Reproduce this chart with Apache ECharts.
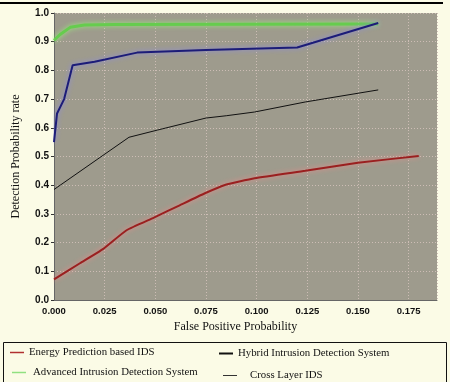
<!DOCTYPE html>
<html><head><meta charset="utf-8">
<script src="https://cdn.jsdelivr.net/npm/echarts@6/dist/echarts.min.js"></script>
<style>html,body{margin:0;padding:0;background:#fbfbe6;}#c{width:450px;height:382px;}</style>
</head><body><div id="c"></div>
<script>
const xTicks = [0, 0.025, 0.05, 0.075, 0.1, 0.125, 0.15, 0.175];
const yTicks = [0, 0.1, 0.2, 0.3, 0.4, 0.5, 0.6, 0.7, 0.8, 0.9, 1.0];
const seriesNames = ['Energy Prediction based IDS', 'Advanced Intrusion Detection System', 'Hybrid Intrusion Detection System', 'Cross Layer IDS'];
const energyX = [0, 0.0128, 0.0243, 0.0358, 0.0493, 0.062, 0.0745, 0.084, 0.099, 0.124, 0.150, 0.180];
const energyY = [0.072, 0.128, 0.178, 0.243, 0.287, 0.330, 0.372, 0.400, 0.424, 0.450, 0.478, 0.502];
const advancedX = [0, 0.003, 0.008, 0.015, 0.030, 0.160];
const advancedY = [0.905, 0.925, 0.95, 0.958, 0.96, 0.962];
const hybridX = [0, 0.037, 0.051, 0.075, 0.085, 0.099, 0.124, 0.160];
const hybridY = [0.385, 0.567, 0.592, 0.634, 0.642, 0.655, 0.690, 0.732];
const crossX = [0, 0.0015, 0.005, 0.0092, 0.020, 0.041, 0.075, 0.120, 0.160];
const crossY = [0.55, 0.65, 0.70, 0.818, 0.83, 0.862, 0.871, 0.880, 0.965];

const pairs = (xs, ys) => xs.map((x, i) => [x, ys[i]]);
const chart = echarts.init(document.getElementById('c'), null, {renderer: 'canvas'});
const serif = '"Liberation Serif", "DejaVu Serif", serif';
const sans = '"Liberation Sans", Arial, sans-serif';
function mkLegend(name, left, top, color, h, padLeft) {
  return {
    data: [{name: name, icon: 'rect', itemStyle: {color: color}}],
    left: left, top: top, orient: 'horizontal',
    itemWidth: 14, itemHeight: h, itemGap: 6,
    textStyle: {fontFamily: serif, fontSize: 10.8, color: '#111', padding: [0, 0, 0, padLeft || 0]},
    selectedMode: false
  };
}
chart.setOption({
  backgroundColor: '#fbfbe6',
  animation: false,
  grid: {left: 54, right: 13, top: 13, bottom: 82, show: true, backgroundColor: '#9e9b8d', borderWidth: 0},
  xAxis: {
    type: 'value', min: 0, max: 0.189, interval: 0.025,
    name: 'False Positive Probability', nameLocation: 'middle', nameGap: 19,
    nameTextStyle: {fontFamily: serif, fontSize: 12, color: '#111', padding: [0, 20, 0, 0]},
    axisLine: {show: true, lineStyle: {color: '#666', width: 1}},
    axisTick: {show: false},
    axisLabel: {showMaxLabel: false, fontFamily: sans, fontSize: 9.5, fontWeight: 'bold', color: '#111', margin: 6,
      formatter: v => xTicks.some(t => Math.abs(t - v) < 1e-9) ? v.toFixed(3) : ''},
    splitLine: {show: true, lineStyle: {color: '#cdbdb5', width: 1, type: [1, 2]}}
  },
  yAxis: {
    type: 'value', min: 0, max: 1.0, interval: 0.1,
    name: 'Detection Probability rate', nameLocation: 'middle', nameGap: 32, nameRotate: 90,
    nameTextStyle: {fontFamily: serif, fontSize: 12, color: '#111'},
    axisLine: {show: true, lineStyle: {color: '#666', width: 1}},
    axisTick: {show: true, length: 3, lineStyle: {color: '#333'}},
    axisLabel: {fontFamily: sans, fontSize: 10, fontWeight: 'bold', color: '#111', margin: 5,
      formatter: v => yTicks.some(t => Math.abs(t - v) < 1e-9) ? v.toFixed(1) : ''},
    splitLine: {show: true, lineStyle: {color: '#cdbdb5', width: 1, type: [1, 2]}}
  },
  legend: [
    mkLegend(seriesNames[0], 5, 342, '#b03030', 1.5, 0),
    mkLegend(seriesNames[1], 7, 362, '#90e080', 1.5, 2),
    mkLegend(seriesNames[2], 214, 343, '#111', 2, 0),
    mkLegend(seriesNames[3], 218, 365, '#333', 1, 8)
  ],
  series: [
    {name: seriesNames[0], type: 'line', data: pairs(energyX, energyY), showSymbol: false, smooth: 0.15,
      lineStyle: {color: '#9a2020', width: 2, shadowColor: '#f08a8a', shadowBlur: 5}, itemStyle: {color: '#9a2020'}},
    {name: seriesNames[1], type: 'line', data: pairs(advancedX, advancedY), showSymbol: false,
      lineStyle: {color: '#66cc4e', width: 3, shadowColor: '#98f078', shadowBlur: 5}, itemStyle: {color: '#66cc4e'}},
    {name: seriesNames[2], type: 'line', data: pairs(hybridX, hybridY), showSymbol: false,
      lineStyle: {color: '#111', width: 1}, itemStyle: {color: '#111'}},
    {name: seriesNames[3], type: 'line', data: pairs(crossX, crossY), showSymbol: false,
      lineStyle: {color: '#1c1c78', width: 2, shadowColor: '#8a8ae8', shadowBlur: 5}, itemStyle: {color: '#1c1c78'}}
  ],
  graphic: [
    {type: 'rect', shape: {x: 0, y: 2, width: 443, height: 2}, style: {fill: '#000'}, silent: true},
    {type: 'rect', shape: {x: 3.5, y: 342.5, width: 443, height: 45}, style: {fill: 'none', stroke: '#111', lineWidth: 1}, silent: true}
  ]
});
</script></body></html>
